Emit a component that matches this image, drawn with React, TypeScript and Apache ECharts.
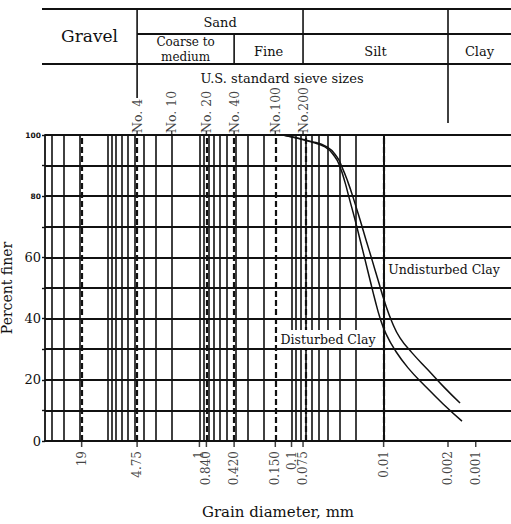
import React, { useEffect, useRef } from 'react';
import * as echarts from 'echarts';

const FONT = '"DejaVu Serif", serif';
const INK = '#111';

// Grain size distribution curves (diameter mm, percent finer)
const disturbedDiameter = [0.124, 0.0662, 0.0433, 0.0337, 0.0297, 0.0263, 0.0238, 0.0204, 0.018, 0.0159, 0.01405, 0.0124, 0.01094, 0.00942, 0.00752, 0.00543, 0.00355, 0.00226, 0.00141];
const disturbedPercent = [100, 98.0, 96.1, 92.8, 89.5, 84.6, 79.7, 72.2, 65.7, 59.2, 52.6, 46.1, 40.2, 35.0, 29.7, 23.9, 18.0, 12.1, 6.5];
const undisturbedDiameter = [0.124, 0.063, 0.0412, 0.0321, 0.0283, 0.0244, 0.0215, 0.018, 0.01553, 0.01336, 0.0115, 0.00966, 0.00811, 0.00664, 0.00491, 0.00329, 0.00221, 0.00148];
const undisturbedPercent = [100, 98.0, 96.1, 92.8, 89.5, 84.6, 79.7, 72.2, 65.7, 59.2, 52.6, 45.1, 38.9, 33.7, 28.8, 23.2, 17.6, 12.4];

// Axis annotations
const bottomTickValues = [19, 4.75, 1, 0.84, 0.42, 0.15, 0.1, 0.075, 0.01, 0.002, 0.001];
const bottomTickLabels = ['19', '4.75', '1', '0.840', '0.420', '0.150', '0.1', '0.075', '0.01', '0.002', '0.001'];
const sieveValues = [4.75, 2.0, 0.84, 0.42, 0.15, 0.075];
const sieveLabels = ['No. 4', 'No. 10', 'No. 20', 'No. 40', 'No.100', 'No.200'];
const dashedValues = [19, 4.75, 0.84, 0.42, 0.15, 0.075, 0.01, 0.002];
const gridMultipliers = [1, 2, 3, 4, 5, 6, 7, 8, 9];
const gridDecades = [-4, -3, -2, -1, 0, 1];
const xMin = 0.000414;
const xMax = 47.5;

// Soil classification boundaries (mm)
const gravelSand = 4.75;
const coarseFine = 0.42;
const sandSilt = 0.075;
const siltClay = 0.002;

const gridValues: number[] = [];
gridDecades.forEach((d) => gridMultipliers.forEach((m) => {
  const v = m * Math.pow(10, d);
  if (v > xMin && v < xMax) gridValues.push(v);
}));

const curveLabel = {
  show: true,
  position: 'inside',
  fontFamily: FONT,
  fontSize: 12.5,
  color: INK,
  backgroundColor: '#fff',
  padding: [3, 3, 2, 3],
};

export default function App() {
  const ref = useRef<HTMLDivElement>(null);
  useEffect(() => {
    if (!ref.current) return;
    const chart = echarts.init(ref.current, undefined, { renderer: 'svg' });
    const markLineData: any[] = [];
    gridValues.forEach((v) => {
      if (!dashedValues.some((d) => Math.abs(d - v) / v < 1e-6)) {
        markLineData.push({ xAxis: v, lineStyle: { type: 'solid', width: 1.6, color: INK } });
      }
    });
    dashedValues.forEach((v) => markLineData.push({ xAxis: v, lineStyle: { type: [6, 3], width: 2.2, color: INK } }));

    chart.setOption({
      animation: false,
      backgroundColor: '#fff',
      grid: { left: 45, right: 0, top: 135, bottom: 83, outerBoundsMode: 'none' },
      xAxis: {
        type: 'log',
        logBase: 10,
        inverse: true,
        min: xMin,
        max: xMax,
        name: 'Grain diameter, mm',
        nameLocation: 'middle',
        nameGap: 63,
        nameTextStyle: { fontFamily: FONT, fontSize: 15, color: INK },
        axisLine: { show: true, lineStyle: { color: INK, width: 1.8 } },
        axisTick: { show: false },
        axisLabel: { show: false },
        splitLine: { show: false },
        minorTick: { show: false },
        minorSplitLine: { show: false },
      },
      yAxis: {
        type: 'value',
        min: 0,
        max: 100,
        interval: 10,
        name: 'Percent finer',
        nameLocation: 'middle',
        nameGap: 26,
        nameTextStyle: { fontFamily: FONT, fontSize: 14, color: INK },
        axisLine: { show: true, lineStyle: { color: INK, width: 1.8 } },
        axisTick: { show: true, length: 3, lineStyle: { color: INK, width: 1.4 } },
        axisLabel: {
          margin: 4,
          fontFamily: FONT,
          fontSize: 13,
          color: INK,
          formatter: (v: number) => (v % 20 !== 0 ? '' : v >= 80 ? `{s|${v}}` : String(v)),
          rich: { s: { fontSize: 7.5, fontWeight: 'bold', fontFamily: '"DejaVu Sans", sans-serif', color: INK } },
        },
        splitLine: { show: true, lineStyle: { color: INK, width: 2 } },
      },
      series: [
        {
          name: 'Disturbed Clay',
          type: 'line',
          smooth: 0.5,
          showSymbol: false,
          symbol: 'none',
          data: disturbedDiameter.map((d, i) => [d, disturbedPercent[i]]),
          lineStyle: { color: INK, width: 1.5 },
          z: 3,
          markLine: {
            silent: true,
            symbol: ['none', 'none'],
            label: { show: false },
            z: 1,
            data: markLineData,
          },
          markPoint: {
            silent: true,
            z: 10,
            symbol: 'rect',
            symbolSize: 1,
            itemStyle: { color: 'rgba(0,0,0,0)' },
            label: curveLabel,
            data: [{ coord: [0.0402, 33.3], value: 'Disturbed Clay', label: { formatter: 'Disturbed Clay' } }],
          },
        },
        {
          name: 'Undisturbed Clay',
          type: 'line',
          smooth: 0.5,
          showSymbol: false,
          symbol: 'none',
          data: undisturbedDiameter.map((d, i) => [d, undisturbedPercent[i]]),
          lineStyle: { color: INK, width: 1.5 },
          z: 3,
          markPoint: {
            silent: true,
            z: 10,
            symbol: 'rect',
            symbolSize: 1,
            itemStyle: { color: 'rgba(0,0,0,0)' },
            label: curveLabel,
            data: [{ coord: [0.00221, 55.9], value: 'Undisturbed Clay', label: { formatter: 'Undisturbed Clay' } }],
          },
        },
        {
          name: 'ticks',
          type: 'scatter',
          clip: false,
          silent: true,
          symbol: 'rect',
          symbolSize: [1.5, 6],
          symbolOffset: [0, 3],
          itemStyle: { color: INK },
          data: bottomTickValues.map((v) => [v, 0]),
          label: {
            show: true,
            position: 'bottom',
            distance: 4,
            rotate: 90,
            align: 'right',
            verticalAlign: 'middle',
            fontFamily: FONT,
            fontSize: 12,
            color: INK,
            formatter: (p: any) => bottomTickLabels[p.dataIndex],
          },
          z: 4,
        },
        {
          name: 'sieves',
          type: 'scatter',
          clip: false,
          silent: true,
          symbol: 'rect',
          symbolSize: [1.5, 4],
          symbolOffset: [0, -2],
          itemStyle: { color: INK },
          data: sieveValues.map((v) => [v, 100]),
          label: {
            show: true,
            position: 'top',
            distance: 2,
            rotate: 90,
            align: 'left',
            verticalAlign: 'middle',
            offset: [-4, 0],
            fontFamily: FONT,
            fontSize: 12.5,
            color: INK,
            formatter: (p: any) => sieveLabels[p.dataIndex],
          },
          z: 4,
        },
      ],
    });

    const px = (v: number) => chart.convertToPixel({ xAxisIndex: 0 }, v) as number;
    const xGS = px(gravelSand);
    const xCF = px(coarseFine);
    const xSS = px(sandSilt);
    const xSC = px(siltClay);
    const W = 511;
    const line = (x1: number, y1: number, x2: number, y2: number, w = 1.8) => ({
      type: 'line',
      silent: true,
      shape: { x1, y1, x2, y2 },
      style: { stroke: INK, lineWidth: w },
    });
    const text = (t: string, x: number, y: number, size: number) => ({
      type: 'text',
      silent: true,
      x,
      y,
      style: {
        text: t,
        fontFamily: FONT,
        fontSize: size,
        fill: INK,
        align: 'center',
        verticalAlign: 'middle',
      },
    });
    chart.setOption({
      graphic: [
        line(42, 9, W, 9, 2),
        line(xGS, 34, W, 34, 1.8),
        line(42, 64, W, 64, 2),
        line(xGS, 9, xGS, 98, 1.6),
        line(xCF, 34, xCF, 64, 1.6),
        line(xSS, 9, xSS, 64, 1.6),
        line(xSC, 9, xSC, 123, 1.6),
        text('Gravel', (42 + xGS) / 2, 36, 17),
        text('Sand', (xGS + xSS) / 2, 22, 13),
        text('Coarse to', (xGS + xCF) / 2, 41.5, 12),
        text('medium', (xGS + xCF) / 2, 56.5, 12),
        text('Fine', (xCF + xSS) / 2, 51, 13),
        text('Silt', (xSS + xSC) / 2, 51, 13),
        text('Clay', (xSC + W) / 2, 51, 13),
        text('U.S. standard sieve sizes', 282, 78, 13),
      ],
    });

    return () => chart.dispose();
  }, []);
  return (
    <div
      ref={ref}
      style={{ position: 'fixed', left: 0, top: 0, width: 511, height: 524, background: '#fff' }}
    />
  );
}
